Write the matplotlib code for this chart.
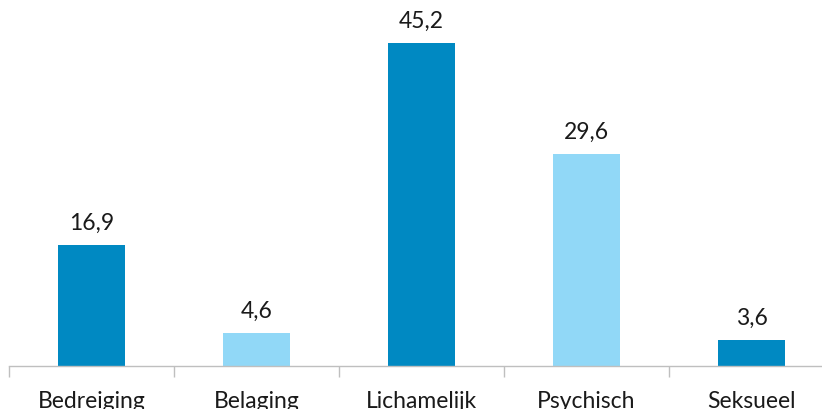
import matplotlib.pyplot as plt

categorieen = ['Bedreiging', 'Belaging', 'Lichamelijk', 'Psychisch', 'Seksueel']
waarden = [16.9, 4.6, 45.2, 29.6, 3.6]
kleuren = ['#0089C2', '#91D8F7', '#0089C2', '#91D8F7', '#0089C2']

plt.rcParams['font.family'] = ['Lato', 'DejaVu Sans']

fig = plt.figure(figsize=(8.22, 4.10), dpi=100)
# axis runs from x=9 px past the right edge, baseline at y=367 px
ax = fig.add_axes([9 / 822, 43 / 410, 825 / 822, 357.3 / 410])

x = range(len(categorieen))
bars = ax.bar(x, waarden, width=0.405, color=kleuren)

for b, v in zip(bars, waarden):
    ax.annotate(f'{v:.1f}'.replace('.', ','),
                (b.get_x() + b.get_width() / 2, v),
                xytext=(0, 9), textcoords='offset points',
                ha='center', va='bottom', fontsize=16.5, color='#1a1a1a')

ax.set_xlim(-0.5, 4.5)
ax.set_ylim(0, 50)

ax.set_xticks(list(x))
ax.set_xticklabels(categorieen, fontsize=16.5, color='#1a1a1a')
ax.tick_params(axis='x', length=0, pad=17)
ax.set_xticks([i - 0.5 for i in range(len(categorieen) + 1)], minor=True)
ax.tick_params(axis='x', which='minor', length=8, color='#bfbfbf', width=1)

ax.set_yticks([])
for s in ['top', 'right', 'left']:
    ax.spines[s].set_visible(False)
ax.spines['bottom'].set_color('#bfbfbf')
ax.spines['bottom'].set_linewidth(1)

fig.savefig('out.png', dpi=100)
